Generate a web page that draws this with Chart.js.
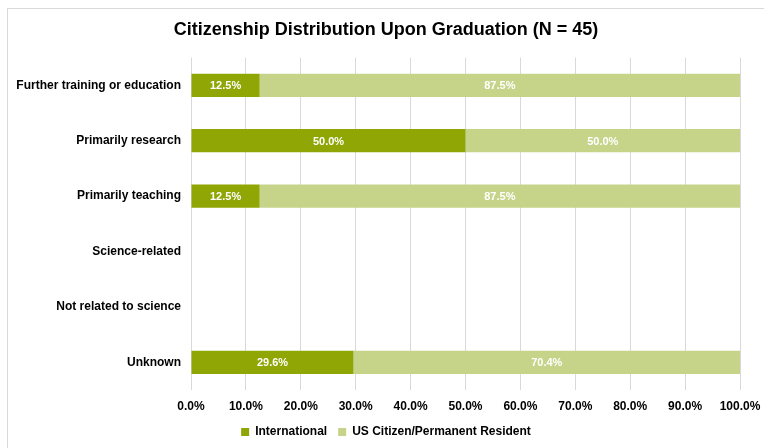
<!DOCTYPE html>
<html>
<head>
<meta charset="utf-8">
<script src="https://cdn.jsdelivr.net/npm/chart.js@4"></script>
<style>
  html, body { margin: 0; padding: 0; background: #fff; }
  #wrap { position: relative; width: 764px; height: 448px; overflow: hidden; }
  #frame { position: absolute; left: 7px; top: 8px; width: 800px; height: 500px;
           border-left: 1px solid #d9d9d9; border-top: 1px solid #d9d9d9; }
  canvas { position: absolute; left: 0; top: 0; }
</style>
</head>
<body>
<div id="wrap">
  <div id="frame"></div>
  <canvas id="myChart" width="764" height="448"></canvas>
</div>
<script>
const categories = ["Further training or education", "Primarily research", "Primarily teaching",
                    "Science-related", "Not related to science", "Unknown"];
const international = [12.5, 50.0, 12.5, 0, 0, 29.6];
const usCitizen = [87.5, 50.0, 87.5, 0, 0, 70.4];
const xTicks = [0, 10, 20, 30, 40, 50, 60, 70, 80, 90, 100];

const FONT = "'Liberation Sans', Arial, sans-serif";

// white value labels in the middle of each segment
const barLabels = {
  id: 'barLabels',
  afterDatasetsDraw(chart) {
    const ctx = chart.ctx;
    ctx.save();
    ctx.fillStyle = '#ffffff';
    ctx.font = 'bold 11px ' + FONT;
    ctx.textAlign = 'center';
    ctx.textBaseline = 'middle';
    chart.data.datasets.forEach((ds, i) => {
      chart.getDatasetMeta(i).data.forEach((bar, j) => {
        const v = ds.data[j];
        if (!v) return;
        const p = bar.getProps(['x', 'y', 'base'], true);
        ctx.fillText(v.toFixed(1) + '%', (p.x + p.base) / 2, p.y + 1);
      });
    });
    ctx.restore();
  }
};

new Chart(document.getElementById('myChart').getContext('2d'), {
  type: 'bar',
  data: {
    labels: categories,
    datasets: [{
      label: 'International',
      data: international,
      backgroundColor: '#8fa604',
      barPercentage: 0.84,
      categoryPercentage: 0.5
    }, {
      label: 'US Citizen/Permanent Resident',
      data: usCitizen,
      backgroundColor: '#c6d48a',
      barPercentage: 0.84,
      categoryPercentage: 0.5
    }]
  },
  options: {
    indexAxis: 'y',
    responsive: false,
    animation: false,
    layout: { padding: { left: 8, right: 0, top: 10, bottom: 0 } },
    scales: {
      x: {
        stacked: true,
        min: 0,
        max: 100,
        afterBuildTicks(scale) { scale.ticks = xTicks.map(v => ({ value: v })); },
        afterFit(scale) { scale.height = 25; scale.paddingRight = 24; },
        ticks: {
          color: '#000',
          font: { family: FONT, size: 12, weight: 'bold' },
          padding: 9,
          callback: v => v.toFixed(1) + '%'
        },
        grid: { color: '#d9d9d9', drawTicks: false },
        border: { display: false }
      },
      y: {
        stacked: true,
        afterFit(scale) { scale.width = 183; },
        ticks: {
          color: '#000',
          font: { family: FONT, size: 12, weight: 'bold' },
          padding: 2
        },
        grid: { display: false },
        border: { display: false }
      }
    },
    plugins: {
      title: {
        display: true,
        text: 'Citizenship Distribution Upon Graduation (N = 45)',
        color: '#000',
        font: { family: FONT, size: 18, weight: 'bold' },
        padding: { top: 9, bottom: 17 }
      },
      legend: {
        position: 'bottom',
        labels: {
          color: '#000',
          font: { family: FONT, size: 12, weight: 'bold' },
          boxWidth: 8,
          boxHeight: 8,
          padding: 11
        }
      },
      tooltip: { enabled: false }
    }
  },
  plugins: [barLabels]
});
</script>
</body>
</html>
